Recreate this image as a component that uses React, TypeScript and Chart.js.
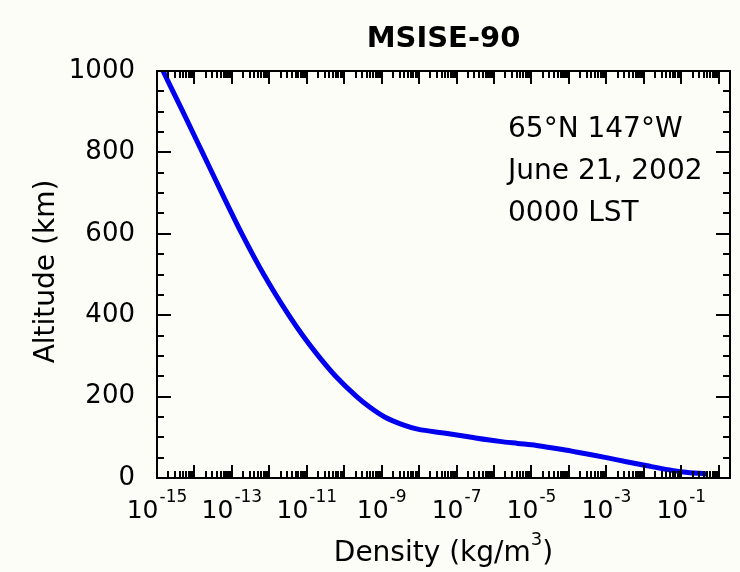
import React, { useEffect, useRef } from 'react';
import { Chart, registerables } from 'chart.js';

Chart.register(...registerables);

// ---- Data ----
const altitudesKm = [1000, 900, 800, 700, 600, 500, 400, 350, 300, 250, 200, 175, 150, 130, 120, 110, 100, 90, 85, 80, 70, 60, 50, 40, 30, 20, 15, 10];
const densitiesKgM3 = [1.45e-15, 4.9e-15, 1.63e-14, 5.4e-14, 1.85e-13, 7.1e-13, 3.3e-12, 7.8e-12, 2.03e-11, 5.9e-11, 2.15e-10, 4.65e-10, 1.2e-9, 3.9e-9, 9.1e-9, 5.1e-8, 2.5e-7, 1.4e-6, 4.3e-6, 1.36e-5, 6.7e-5, 2.6e-4, 1.0e-3, 3.4e-3, 1.23e-2, 4.8e-2, 0.112, 0.47];

// ---- Axes / labels ----
const xMin = 1e-15;
const xMax = 2;
const xDecadeFirst = -15;
const xDecadeLast = 0;
const xLabelExponents = [-15, -13, -11, -9, -7, -5, -3, -1];
const yMin = 0;
const yMax = 1000;
const yMajorStep = 200;
const yMinorStep = 50;

const titleText = 'MSISE-90';
const infoLines = ['65°N 147°W', 'June 21, 2002', '0000 LST'];
const yAxisTitle = 'Altitude (km)';
const xAxisTitleMain = 'Density (kg/m';
const xAxisTitleSup = '3';
const xAxisTitleEnd = ')';

const FONT = '"DejaVu Sans", sans-serif';
const BG = '#fdfdf8';
const LINE_COLOR = '#0000ee';

const decorPlugin = {
  id: 'decor',
  beforeDraw(chart: any) {
    const ctx = chart.ctx;
    ctx.save();
    ctx.fillStyle = BG;
    ctx.fillRect(0, 0, chart.width, chart.height);
    ctx.restore();
  },
  afterDatasetsDraw(chart: any) {
    const { ctx, chartArea: a, scales } = chart;
    const xs = scales.x;
    const ys = scales.y;
    ctx.save();
    ctx.strokeStyle = '#000';
    ctx.lineWidth = 2;
    ctx.beginPath();
    // x ticks: decades (major) and 2..9 (minor), pointing inward at top and bottom
    for (let e = xDecadeFirst; e <= xDecadeLast; e++) {
      for (let m = 1; m <= 9; m++) {
        const v = m * Math.pow(10, e);
        if (v < xMin * 0.999 || v > xMax) continue;
        const px = Math.round(xs.getPixelForValue(v));
        if (px <= a.left + 1 || px >= a.right - 1) continue;
        const len = m === 1 ? 13 : 7;
        ctx.moveTo(px, a.top);
        ctx.lineTo(px, a.top + len);
        ctx.moveTo(px, a.bottom);
        ctx.lineTo(px, a.bottom - len);
      }
    }
    // y ticks
    for (let v = yMin + yMinorStep; v < yMax; v += yMinorStep) {
      const py = Math.round(ys.getPixelForValue(v));
      const len = v % yMajorStep === 0 ? 14 : 7;
      ctx.moveTo(a.left, py);
      ctx.lineTo(a.left + len, py);
      ctx.moveTo(a.right, py);
      ctx.lineTo(a.right - len, py);
    }
    ctx.stroke();
    // frame
    ctx.strokeRect(a.left, a.top, a.right - a.left, a.bottom - a.top);
    ctx.restore();
  },
  afterDraw(chart: any) {
    const { ctx, chartArea: a, scales } = chart;
    const xs = scales.x;
    ctx.save();
    ctx.fillStyle = '#000';
    ctx.textBaseline = 'alphabetic';

    // Title
    ctx.font = `bold 29px ${FONT}`;
    ctx.textAlign = 'center';
    ctx.fillText(titleText, (a.left + a.right) / 2, 47);

    // Info lines
    ctx.font = `28px ${FONT}`;
    ctx.textAlign = 'left';
    infoLines.forEach((t, i) => {
      ctx.fillText(t, 508, 137 + i * 42);
    });

    // x tick labels 10^e
    ctx.textAlign = 'left';
    const baseFont = `25px ${FONT}`;
    const supFont = `17px ${FONT}`;
    xLabelExponents.forEach((e) => {
      const px = xs.getPixelForValue(Math.pow(10, e));
      ctx.font = baseFont;
      const wb = ctx.measureText('10').width;
      ctx.font = supFont;
      const sup = String(e);
      const ws = ctx.measureText(sup).width;
      const start = px - (wb + ws + 1) / 2;
      ctx.font = baseFont;
      ctx.fillText('10', start, 518);
      ctx.font = supFont;
      ctx.fillText(sup, start + wb + 1, 502);
    });

    // x axis title with superscript
    const tf = `28px ${FONT}`;
    const tsf = `18px ${FONT}`;
    ctx.font = tf;
    const w1 = ctx.measureText(xAxisTitleMain).width;
    const w3 = ctx.measureText(xAxisTitleEnd).width;
    ctx.font = tsf;
    const w2 = ctx.measureText(xAxisTitleSup).width;
    const total = w1 + w2 + w3;
    const sx = (a.left + a.right) / 2 - total / 2;
    ctx.font = tf;
    ctx.fillText(xAxisTitleMain, sx, 561);
    ctx.font = tsf;
    ctx.fillText(xAxisTitleSup, sx + w1, 545);
    ctx.font = tf;
    ctx.fillText(xAxisTitleEnd, sx + w1 + w2, 561);

    // y axis title
    ctx.save();
    ctx.translate(54, (a.top + a.bottom) / 2 - 3);
    ctx.rotate(-Math.PI / 2);
    ctx.font = `28px ${FONT}`;
    ctx.textAlign = 'center';
    ctx.fillText(yAxisTitle, 0, 0);
    ctx.restore();

    ctx.restore();
  },
};

export default function App() {
  const canvasRef = useRef<HTMLCanvasElement | null>(null);

  useEffect(() => {
    const canvas = canvasRef.current;
    if (!canvas) return;
    const points = densitiesKgM3.map((d, i) => ({ x: d, y: altitudesKm[i] }));
    const chart = new Chart(canvas, {
      type: 'line',
      data: {
        datasets: [
          {
            data: points,
            borderColor: LINE_COLOR,
            backgroundColor: LINE_COLOR,
            borderWidth: 5,
            pointRadius: 0,
            cubicInterpolationMode: 'monotone',
            fill: false,
          },
        ],
      },
      options: {
        animation: false,
        responsive: false,
        devicePixelRatio: 1,
        layout: { padding: { top: 71, right: 10, bottom: 0, left: 0 } },
        plugins: {
          legend: { display: false },
          tooltip: { enabled: false },
          title: { display: false },
        },
        scales: {
          x: {
            type: 'logarithmic',
            min: xMin,
            max: xMax,
            grid: { display: false, drawTicks: false },
            border: { display: false },
            ticks: { display: false },
            afterFit: (scale: any) => {
              scale.height = 94;
            },
          },
          y: {
            type: 'linear',
            min: yMin,
            max: yMax,
            grid: { display: false, drawTicks: false },
            border: { display: false },
            ticks: {
              stepSize: yMajorStep,
              padding: 22,
              color: '#000',
              font: { family: 'DejaVu Sans', size: 26 },
              callback: (v: any) => String(v),
            },
            afterFit: (scale: any) => {
              scale.width = 157;
            },
          },
        },
      },
      plugins: [decorPlugin],
    } as any);
    return () => chart.destroy();
  }, []);

  return (
    <div style={{ position: 'fixed', left: 0, top: 0, width: 740, height: 572, background: BG }}>
      <canvas ref={canvasRef} width={740} height={572} style={{ display: 'block' }} />
    </div>
  );
}
